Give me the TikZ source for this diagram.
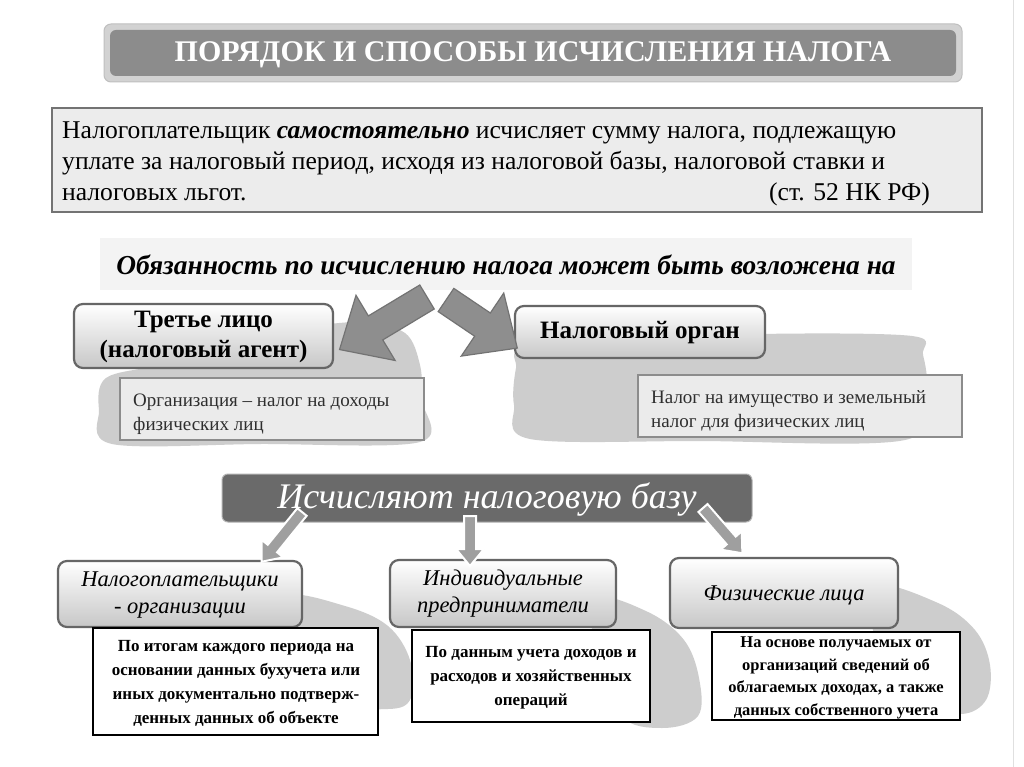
\documentclass[tikz,border=0pt]{standalone}
\usepackage{fontspec}
\setmainfont{Liberation Serif}
\definecolor{titleout}{HTML}{D2D2D2}
\definecolor{titlein}{HTML}{8C8C8C}
\definecolor{quotefill}{HTML}{ECECEC}
\definecolor{subfill}{HTML}{F3F3F3}
\definecolor{barfill}{HTML}{6A6A6A}
\definecolor{blobc}{HTML}{CDCDCD}
\definecolor{arrowc}{HTML}{8E8E8E}
\definecolor{txtgray}{HTML}{2E2E2E}
\newcommand{\fsz}[2]{\fontsize{#1}{#2}\selectfont}
\tikzset{
  pics/barrow/.style args={#1/#2/#3/#4}{code={
    \path[pic actions] (0,-#2) -- ({#1-#4},-#2) -- ({#1-#4},-#3) -- (#1,0)
      -- ({#1-#4},#3) -- ({#1-#4},#2) -- (0,#2) -- cycle;}},
  bigarrow/.style={fill=arrowc, draw=black!55, line width=1.2pt},
  smallarrow/.style={fill=arrowc!85, draw=white, line width=2pt},
  blob/.style={fill=blobc},
  headbox/.style={rounded corners=9pt, top color=white, bottom color=black!22,
    draw=black!60, line width=2.2pt},
  infobox/.style={fill=black!8, draw=black!45, line width=1.5pt},
  detailbox/.style={fill=white, draw=black, line width=2pt},
  lbl/.style={inner sep=0pt, align=center},
  ln/.style={anchor=base west, inner sep=0pt},
}
\begin{document}
\begin{tikzpicture}[x=1pt,y=-1pt]
\useasboundingbox (0,0) rectangle (1024,767);
\fill[white] (0,0) rectangle (1024,767);
\draw[black!12, line width=1pt] (1013,0) -- (1013,767);

% ---- title
\path[fill=titleout, draw=black!25, line width=1pt, rounded corners=7pt] (104,24) rectangle (962,82);
\path[fill=titlein, rounded corners=6pt] (110,30) rectangle (956,76);
\node[lbl, text=white, font=\bfseries\fsz{30}{32}] (titletxt) at (533,55) {ПОРЯДОК И СПОСОБЫ ИСЧИСЛЕНИЯ НАЛОГА};

% ---- quote box
\path[fill=quotefill, draw=black!55, line width=2.5pt] (52,108) rectangle (982,212);
\node[ln, font=\fsz{25.6}{30}] (q1) at (62,139) {Налогоплательщик \textbf{\textit{самостоятельно}} исчисляет сумму налога, подлежащую};
\node[ln, font=\fsz{25.6}{30}] (q2) at (62,170) {уплате за налоговый период, исходя из налоговой базы, налоговой ставки и};
\node[ln, font=\fsz{25.6}{30}] (q3) at (62,201) {налоговых льгот.};
\node[anchor=base east, inner sep=0pt, font=\fsz{25.6}{30}] (q4) at (930,201) {(ст. 52 НК РФ)};

% ---- subtitle
\path[fill=subfill] (100,238) rectangle (912,290);
\node[lbl, font=\bfseries\itshape\fsz{27.4}{30}] (subtxt) at (506,265) {Обязанность по исчислению налога может быть возложена на};

% ---- middle blobs
\fill[blob] plot[smooth cycle, tension=0.55] coordinates {(290,330) (360,322) (405,333) (420,365) (422,400) (420,442) (260,444) (112,444) (99,410) (106,378) (160,365) (240,345)};
\fill[blob] plot[smooth cycle, tension=0.55] coordinates {(525,348) (640,341) (760,334) (912,336) (923,355) (926,392) (905,440) (700,441) (530,439) (514,405) (516,368)};

% ---- middle boxes
\path[headbox] (74,304) rectangle (333,368);
\node[lbl, font=\bfseries\fsz{25}{30}] (agent) at (203.5,337) {Третье лицо\\(налоговый агент)};
\path[infobox] (120,378) rectangle (424,440);
\node[ln, text=txtgray, font=\fsz{19}{24}] (org1) at (133,406) {Организация – налог на доходы};
\node[ln, text=txtgray, font=\fsz{19}{24}] (org2) at (133,430) {физических лиц};

\path[headbox] (515,306) rectangle (765,358);
\node[lbl, font=\bfseries\fsz{25}{30}] (organ) at (640,333) {Налоговый орган};
\path[infobox] (638,375) rectangle (962,437);
\node[ln, text=txtgray, font=\fsz{19}{24}] (im1) at (651,403) {Налог на имущество и земельный};
\node[ln, text=txtgray, font=\fsz{19}{24}] (im2) at (651,427) {налог для физических лиц};

% ---- big arrows
\pic[bigarrow, rotate=211] at (427,297) {barrow=102/14/38/42};
\pic[bigarrow, rotate=-34] at (446,300) {barrow=86/14/38/42};

% ---- base bar
\path[fill=barfill, draw=black!30, line width=1pt, rounded corners=6pt] (222,474) rectangle (752,522);
\node[lbl, text=white, font=\itshape\fsz{36}{40}] (bar) at (487,499) {Исчисляют налоговую базу};

% ---- bottom blobs
\fill[blob] plot[smooth cycle, tension=0.6] coordinates {(285,596) (345,606) (388,626) (410,660) (411,698) (388,709) (330,700) (280,640)};
\fill[blob] plot[smooth cycle, tension=0.6] coordinates {(595,598) (648,612) (684,640) (699,678) (698,716) (662,728) (620,715) (596,650)};
\fill[blob] plot[smooth cycle, tension=0.6] coordinates {(875,586) (938,603) (975,630) (990,665) (986,700) (960,714) (915,700) (876,640)};

% ---- bottom head boxes
\path[headbox] (58,561) rectangle (302,627);
\node[lbl, font=\itshape\fsz{22.5}{27}] (np) at (180,595) {Налогоплательщики\\- организации};
\path[headbox] (390,560) rectangle (616,627);
\node[lbl, font=\itshape\fsz{22.5}{27}] (ip) at (503,594) {Индивидуальные\\предприниматели};
\path[headbox] (670,558) rectangle (898,628);
\node[lbl, font=\itshape\fsz{22.5}{27}] (fl) at (784,595) {Физические лица};

% ---- small arrows
\pic[smallarrow, rotate=231] at (302,512) {barrow=64/6/14/17};
\pic[smallarrow, rotate=-90] at (470,516) {barrow=50/6/14/17};
\pic[smallarrow, rotate=-49] at (703,508) {barrow=60/6/14/17};

% ---- detail boxes
\path[detailbox] (93,628) rectangle (378,735);
\node[lbl, font=\bfseries\fsz{17}{24}] (d1) at (236,683) {По итогам каждого периода на\\основании данных бухучета или\\иных документально подтверж-\\денных данных об объекте};
\path[detailbox] (412,630) rectangle (650,722);
\node[lbl, font=\bfseries\fsz{17}{24}] (d2) at (531,678) {По данным учета доходов и\\расходов и хозяйственных\\операций};
\path[detailbox] (712,632) rectangle (960,720);
\node[lbl, font=\bfseries\fsz{16.5}{22.5}] (d3) at (836,678) {На основе получаемых от\\организаций сведений об\\облагаемых доходах, а также\\данных собственного учета};
\end{tikzpicture}
\end{document}
